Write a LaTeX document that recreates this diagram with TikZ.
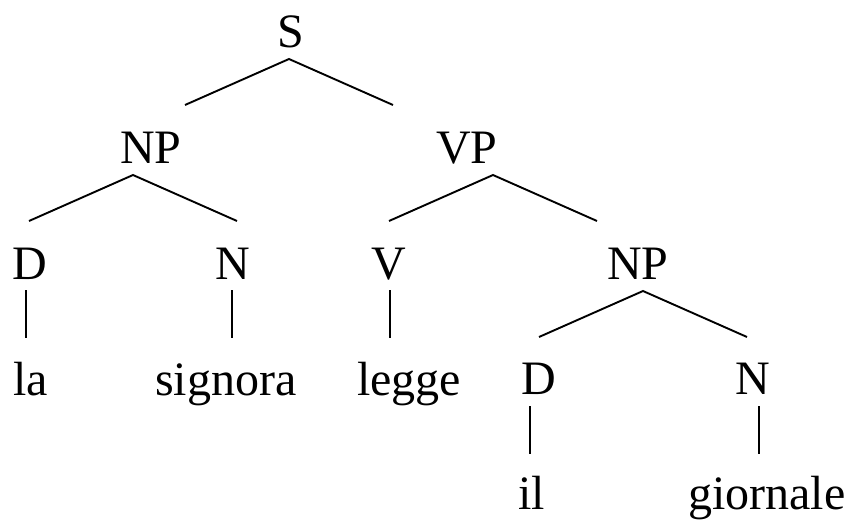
\documentclass[tikz,border=0pt]{standalone}
\usepackage{fontspec}
\setmainfont{Liberation Serif}
\begin{document}
\begin{tikzpicture}[x=1pt,y=-1pt,
  lab/.style={anchor=base west,inner sep=0pt,font=\fontsize{48}{58}\selectfont},
  branch/.style={line width=1.9pt},
  stem/.style={line width=1.5pt}]
\useasboundingbox (0,0) rectangle (852,525);
% category and word labels
\node[lab] (s)   at (277,47)  {S};
\node[lab] (np1) at (120,163) {NP};
\node[lab] (vp)  at (436,163) {VP};
\node[lab] (d1)  at (12,279)  {D};
\node[lab] (n1)  at (215,279) {N};
\node[lab] (v1)  at (371,279) {V};
\node[lab] (np2) at (607,279) {NP};
\node[lab] (la)  at (13,395)  {la};
\node[lab] (sig) at (155,395) {signora};
\node[lab] (leg) at (357,395) {legge};
\node[lab] (d2)  at (521,394) {D};
\node[lab] (n2)  at (735,394) {N};
\node[lab] (il)  at (518,509) {il};
\node[lab] (gio) at (688,509) {giornale};
% branch points
\coordinate (sA) at (289,59);  \coordinate (sL) at (185,105); \coordinate (sR) at (393,105);
\coordinate (npA) at (133,175); \coordinate (npL) at (29,221); \coordinate (npR) at (237,221);
\coordinate (vpA) at (493,175); \coordinate (vpL) at (389,221); \coordinate (vpR) at (597,221);
\coordinate (nqA) at (643,291); \coordinate (nqL) at (539,337); \coordinate (nqR) at (747,337);
\coordinate (b1t) at (26,290);  \coordinate (b1b) at (26,338);
\coordinate (b2t) at (232,290); \coordinate (b2b) at (232,338);
\coordinate (b3t) at (390,290); \coordinate (b3b) at (390,338);
\coordinate (b4t) at (530,406); \coordinate (b4b) at (530,454);
\coordinate (b5t) at (759,406); \coordinate (b5b) at (759,454);
% branches
\draw[branch] (sL) -- (sA) -- (sR);
\draw[branch] (npL) -- (npA) -- (npR);
\draw[branch] (vpL) -- (vpA) -- (vpR);
\draw[branch] (nqL) -- (nqA) -- (nqR);
% lexical stems
\draw[stem] (b1t) -- (b1b);
\draw[stem] (b2t) -- (b2b);
\draw[stem] (b3t) -- (b3b);
\draw[stem] (b4t) -- (b4b);
\draw[stem] (b5t) -- (b5b);
\end{tikzpicture}
\end{document}
